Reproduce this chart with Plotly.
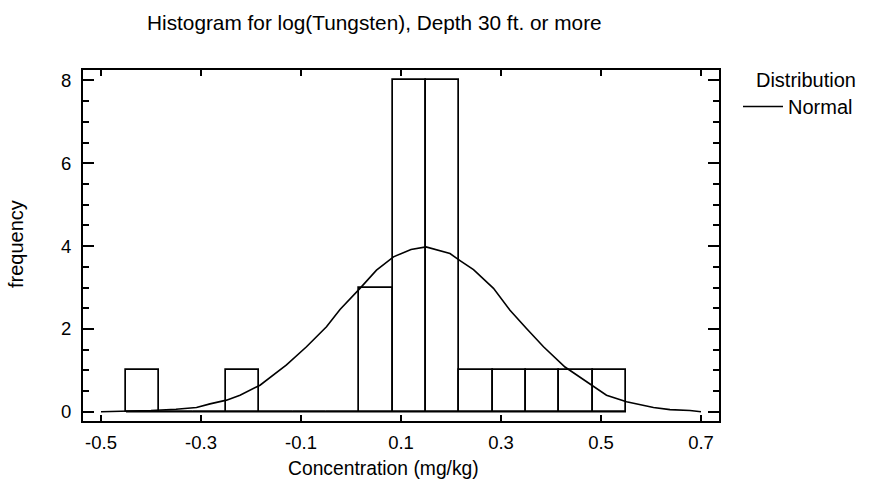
import plotly.graph_objects as go

# ---- data ----
bin_left = [-0.45, -0.3833, -0.3167, -0.25, -0.1833, -0.1167, -0.05, 0.0167,
            0.0833, 0.15, 0.2167, 0.2833, 0.35, 0.4167, 0.4833]
bin_width = 0.0667
counts = [1, 0, 0, 1, 0, 0, 0, 3, 8, 8, 1, 1, 1, 1, 1]

curve_x = [-0.5, -0.45, -0.4, -0.35, -0.309, -0.282, -0.249, -0.222, -0.182,
           -0.129, -0.089, -0.049, -0.022, 0.018, 0.051, 0.085, 0.12, 0.15,
           0.198, 0.218, 0.245, 0.285, 0.318, 0.351, 0.385, 0.428, 0.485,
           0.511, 0.551, 0.578, 0.605, 0.638, 0.678, 0.70]
curve_y = [0.0, 0.01, 0.03, 0.06, 0.10, 0.19, 0.28, 0.40, 0.64,
           1.13, 1.57, 2.05, 2.47, 2.98, 3.42, 3.74, 3.92, 3.98,
           3.82, 3.65, 3.43, 2.98, 2.45, 2.01, 1.57, 1.08, 0.62,
           0.40, 0.24, 0.17, 0.10, 0.05, 0.03, 0.0]

x_ticks = [-0.5, -0.3, -0.1, 0.1, 0.3, 0.5, 0.7]
x_ticklabels = ["-0.5", "-0.3", "-0.1", "0.1", "0.3", "0.5", "0.7"]
y_ticks = [0, 2, 4, 6, 8]

title_text = "Histogram for log(Tungsten), Depth 30 ft. or more"
x_title = "Concentration (mg/kg)"
y_title = "frequency"

FONT = "Liberation Sans, Arial, sans-serif"
W, H = 883, 498
L, R, T, B = 83, 164, 70, 77
PW, PH = W - L - R, H - T - B

bin_center = [b + bin_width / 2 for b in bin_left]
bin_right_end = bin_left[-1] + bin_width

fig = go.Figure()

# baseline under empty bins
fig.add_trace(go.Scatter(
    x=[bin_left[0], bin_right_end], y=[0, 0], mode="lines",
    line=dict(color="black", width=1.5), showlegend=False, hoverinfo="skip"))

fig.add_trace(go.Bar(
    x=bin_center, y=counts, width=bin_width,
    marker=dict(color="white", line=dict(color="black", width=1.7)),
    showlegend=False))

fig.add_trace(go.Scatter(
    x=curve_x, y=curve_y, mode="lines", name="Normal",
    line=dict(color="black", width=1.6), showlegend=True))

fig.update_layout(
    width=W, height=H,
    margin=dict(l=L, r=R, t=T, b=B, pad=0),
    paper_bgcolor="white", plot_bgcolor="white",
    font=dict(family=FONT, size=18, color="black"),
    bargap=0,
    showlegend=True,
    legend=dict(
        title=dict(text="Distribution", side="top right", font=dict(size=20)),
        font=dict(size=20),
        x=(738 - L) / PW, y=1 + 9 / PH, xanchor="left", yanchor="top",
        bgcolor="rgba(0,0,0,0)", borderwidth=0, itemwidth=40,
        tracegroupgap=0),
    xaxis=dict(
        range=[-0.536, 0.736], tickvals=x_ticks, ticktext=x_ticklabels,
        ticks="inside", ticklen=6, tickwidth=2, tickcolor="black",
        showline=True, linecolor="black", linewidth=2, mirror="ticks",
        showgrid=False, zeroline=False, tickfont=dict(size=18.5),
        ticklabelstandoff=4),
    yaxis=dict(
        range=[-0.224, 8.253], tickvals=y_ticks,
        ticks="inside", ticklen=11, tickwidth=2, tickcolor="black",
        minor=dict(dtick=0.5, ticks="inside", ticklen=6, tickwidth=2,
                   tickcolor="black", showgrid=False),
        showline=True, linecolor="black", linewidth=2, mirror="ticks",
        showgrid=False, zeroline=False, tickfont=dict(size=18.5),
        ticklabelstandoff=6),
    annotations=[
        dict(text=title_text, xref="paper", yref="paper",
             x=(145 - L) / PW, y=1 + (T - 22) / PH,
             xanchor="left", yanchor="middle", showarrow=False,
             font=dict(size=20.8)),
        dict(text=x_title, xref="paper", yref="paper",
             x=(286 - L) / PW, y=-(468 - (H - B)) / PH,
             xanchor="left", yanchor="middle", showarrow=False,
             font=dict(size=19.3)),
        dict(text=y_title, xref="paper", yref="paper",
             x=-(L - 16) / PW, y=(H - B - 244) / PH,
             xanchor="center", yanchor="middle", showarrow=False,
             textangle=-90, font=dict(size=20)),
    ],
)

fig.write_html("out.html", config={"displayModeBar": False},
               post_script="document.body.style.margin='0px';")
